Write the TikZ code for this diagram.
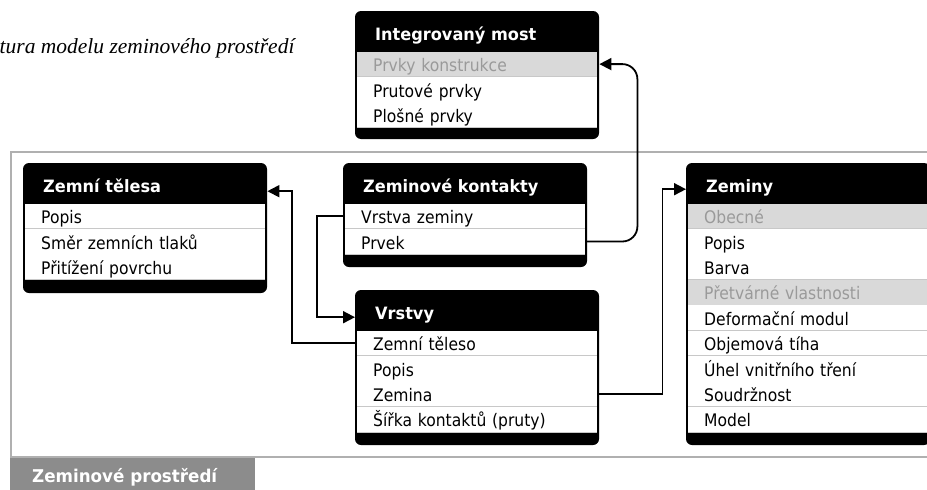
\documentclass[tikz,border=0pt]{standalone}
\usepackage{fontspec}
\usetikzlibrary{arrows.meta}
\newfontfamily\uifont[FakeStretch=0.9]{DejaVu Sans}
\newfontfamily\uibold[FakeStretch=0.95]{DejaVu Sans Bold}
\newfontfamily\capfont{Liberation Serif}

\definecolor{framegray}{HTML}{B0B0B0}
\definecolor{tabgray}{HTML}{8C8C8C}
\definecolor{rowgray}{HTML}{D9D9D9}
\definecolor{graytext}{HTML}{9A9A9A}
\definecolor{sepgray}{HTML}{C8C8C8}

% table: #1 name, #2 left x, #3 top y, #4 bottom y, #5 title
\newcommand\ertable[5]{%
  \fill[black, rounded corners=6pt] (#2,#3) rectangle (#2+244,#4);
  \node[hdr] (#1) at (#2,#3) {#5};
  \coordinate (#1-next) at ([xshift=2pt]#1.south west);
}
% row: #1 table, #2 row name, #3 style, #4 text
\newcommand\errow[4]{%
  \node[#3] (#1-#2) at (#1-next) {#4};
  \draw[sep] (#1-#2.south west) -- (#1-#2.south east);
  \coordinate (#1-next) at (#1-#2.south west);
}

\tikzset{
  x=1pt, y=-1pt,
  hdr/.style={anchor=north west, inner ysep=0pt, inner xsep=20pt,
    minimum width=244pt, minimum height=40pt, text width=204pt, align=left,
    text height=18pt, text depth=0pt, text=white,
    font=\uibold\fontsize{17}{20}\selectfont},
  row/.style={anchor=north west, inner ysep=0pt, inner xsep=16pt, fill=white,
    minimum width=240pt, minimum height=25pt, text width=208pt, align=left,
    text height=15pt, text depth=0pt, text=black,
    font=\uifont\fontsize{17.3}{20}\selectfont},
  grayrow/.style={row, fill=rowgray, text=graytext},
  sep/.style={draw=sepgray, line width=0.8pt},
  link/.style={line width=1.8pt, -{Triangle[length=12pt,width=12pt]}},
}

\begin{document}
\begin{tikzpicture}
\useasboundingbox (0,0) rectangle (927,490);
\clip (0,0) rectangle (927,490);

% caption
\node[anchor=base west, inner sep=0pt, font=\capfont\itshape\fontsize{21.5}{25}\selectfont] (cap)
  at (-0.5,53) {tura modelu zeminového prostředí};

% surrounding frame with its tab
\draw[framegray, line width=2.3pt] (11,152) rectangle (990,457);
\node[anchor=north west, fill=tabgray, inner ysep=0pt, inner xsep=22pt,
  minimum width=245pt, minimum height=33pt, text width=201pt, align=left,
  text height=15.5pt, text depth=0pt, text=white,
  font=\uibold\fontsize{17.6}{20}\selectfont] (tab)
  at (10,458) {Zeminové prostředí};

% Integrovaný most
\ertable{im}{355}{11}{139}{Integrovaný most}
\errow{im}{r1}{grayrow}{Prvky konstrukce}
\errow{im}{r2}{row}{Prutové prvky}
\errow{im}{r3}{row}{Plošné prvky}

% Zemní tělesa
\ertable{zt}{23}{163}{293}{Zemní tělesa}
\errow{zt}{r1}{row}{Popis}
\errow{zt}{r2}{row}{Směr zemních tlaků}
\errow{zt}{r3}{row}{Přitížení povrchu}

% Zeminové kontakty
\ertable{zk}{343}{163}{267}{Zeminové kontakty}
\errow{zk}{r1}{row}{Vrstva zeminy}
\errow{zk}{r2}{row}{Prvek}

% Vrstvy
\ertable{vr}{355}{290}{445}{Vrstvy}
\errow{vr}{r1}{row}{Zemní těleso}
\errow{vr}{r2}{row}{Popis}
\errow{vr}{r3}{row}{Zemina}
\errow{vr}{r4}{row}{Šířka kontaktů (pruty)}

% Zeminy
\ertable{ze}{686}{163}{445}{Zeminy}
\errow{ze}{r1}{grayrow}{Obecné}
\errow{ze}{r2}{row}{Popis}
\errow{ze}{r3}{row}{Barva}
\errow{ze}{r4}{grayrow}{Přetvárné vlastnosti}
\errow{ze}{r5}{row}{Deformační modul}
\errow{ze}{r6}{row}{Objemová tíha}
\errow{ze}{r7}{row}{Úhel vnitřního tření}
\errow{ze}{r8}{row}{Soudržnost}
\errow{ze}{r9}{row}{Model}

% references between tables
\draw[link, rounded corners=15pt] (zk-r2.east) -| ([xshift=40pt]im-r1.east) -- ([xshift=2pt]im-r1.east);
\draw[link] (zk-r1.west) -- ++(-28,0) |- ([yshift=-7pt]vr.west);
\draw[link] (vr-r1.west) -- ++(-65,0) |- ([yshift=-8pt]zt.east);
\draw[link] (vr-r3.east) -- ++(65,0) |- ([yshift=-6pt]ze.west);
\end{tikzpicture}
\end{document}
